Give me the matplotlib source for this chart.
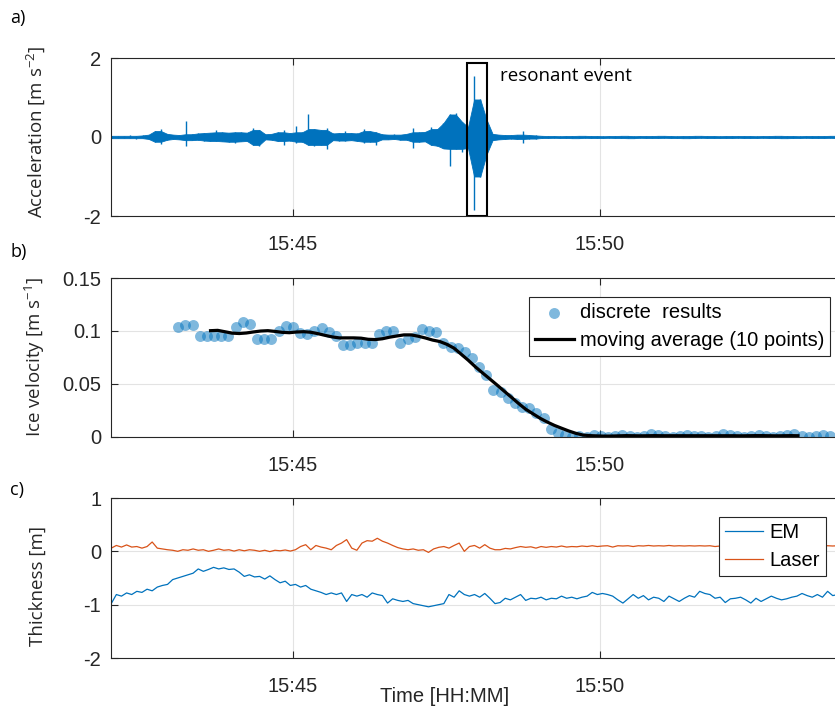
import numpy as np
import matplotlib
matplotlib.use('Agg')
import matplotlib.pyplot as plt
from matplotlib.patches import Rectangle

plt.rcParams['font.family'] = ['Liberation Sans', 'DejaVu Sans']
plt.rcParams['mathtext.fontset'] = 'custom'
plt.rcParams['mathtext.rm'] = 'Open Sans'
plt.rcParams['mathtext.default'] = 'regular'

# time axis in minutes after 15:40
time_ticks = [5, 10]
time_labels = ['15:45', '15:50']
x_range = (2.036, 13.876)

# a) accelerometer trace, max/min per 6 s window starting 15:42:03
acc_t0, acc_dt = 2.05, 0.1
acc_max = [0.03, 0.03, 0.03, 0.04, 0.03, 0.04, 0.06, 0.15, 0.20, 0.08,
           0.06, 0.05, 0.40, 0.07, 0.09, 0.10, 0.11, 0.17, 0.12, 0.11,
           0.13, 0.12, 0.11, 0.24, 0.18, 0.07, 0.08, 0.12, 0.18, 0.10,
           0.29, 0.12, 0.57, 0.20, 0.18, 0.22, 0.09, 0.10, 0.15, 0.10,
           0.09, 0.20, 0.15, 0.12, 0.07, 0.06, 0.07, 0.06, 0.08, 0.22,
           0.12, 0.13, 0.26, 0.20, 0.35, 0.57, 0.60, 0.39, 0.25, 1.55,
           0.95, 0.45, 0.08, 0.06, 0.05, 0.05, 0.06, 0.14, 0.05, 0.04,
           0.03, 0.025, 0.03, 0.02, 0.03, 0.025, 0.03, 0.03, 0.025, 0.03,
           0.02, 0.03, 0.025, 0.03, 0.03, 0.02, 0.025, 0.03, 0.025, 0.03,
           0.03, 0.025, 0.02, 0.03, 0.025, 0.03, 0.03, 0.025, 0.03, 0.02,
           0.03, 0.025, 0.03, 0.025, 0.03, 0.02, 0.03, 0.025, 0.03, 0.03,
           0.025, 0.03, 0.02, 0.03, 0.025, 0.03, 0.025, 0.03, 0.03]
acc_min = [-0.03, -0.03, -0.03, -0.03, -0.04, -0.03, -0.05, -0.12, -0.18, -0.07,
           -0.05, -0.06, -0.22, -0.08, -0.07, -0.09, -0.10, -0.10, -0.11, -0.12,
           -0.14, -0.11, -0.10, -0.20, -0.22, -0.06, -0.07, -0.10, -0.20, -0.09,
           -0.16, -0.12, -0.20, -0.22, -0.20, -0.30, -0.08, -0.09, -0.09, -0.08,
           -0.10, -0.15, -0.12, -0.20, -0.06, -0.06, -0.05, -0.07, -0.07, -0.29,
           -0.12, -0.11, -0.20, -0.22, -0.29, -0.73, -0.30, -0.37, -0.28, -1.85,
           -1.00, -0.45, -0.08, -0.06, -0.05, -0.04, -0.05, -0.16, -0.04, -0.05,
           -0.025, -0.03, -0.02, -0.03, -0.025, -0.03, -0.03, -0.02, -0.03, -0.025,
           -0.03, -0.02, -0.03, -0.025, -0.03, -0.03, -0.02, -0.025, -0.03, -0.025,
           -0.02, -0.03, -0.025, -0.03, -0.03, -0.025, -0.02, -0.03, -0.025, -0.03,
           -0.025, -0.03, -0.02, -0.03, -0.025, -0.03, -0.02, -0.03, -0.025, -0.03,
           -0.03, -0.025, -0.03, -0.02, -0.03, -0.025, -0.03, -0.02, -0.03]
event_window = (7.834, 8.160)
event_top = 1.87

# b) ice velocity, one estimate every 7 s starting 15:43:08
vel_t0, vel_dt = 3.132, 7 / 60
velocity = [0.1035, 0.1054, 0.1054, 0.0956, 0.0953, 0.095, 0.095, 0.095, 0.104, 0.1088,
            0.1066, 0.0925, 0.092, 0.092, 0.1003, 0.105, 0.1035, 0.0984, 0.0969, 0.1003,
            0.103, 0.099, 0.095, 0.0868, 0.0868, 0.089, 0.089, 0.089, 0.0972, 0.1003,
            0.1003, 0.0884, 0.0922, 0.0947, 0.1016, 0.1003, 0.0993, 0.089, 0.0846, 0.0837,
            0.0805, 0.0748, 0.0657, 0.0582, 0.0443, 0.0428, 0.0365, 0.0318, 0.0286, 0.027,
            0.0224, 0.0176, 0.0072, 0.0035, 0.002, 0.0003, 0.001, 0.0, 0.002, 0.001,
            0.0, 0.001, 0.002, 0.001, 0.0, 0.001, 0.003, 0.002, 0.001, 0.0,
            0.001, 0.002, 0.001, 0.001, 0.0, 0.001, 0.003, 0.002, 0.001, 0.0,
            0.001, 0.002, 0.001, 0.0, 0.001, 0.002, 0.003, 0.001, 0.0, 0.001,
            0.002, 0.001]
ma_window = 10

# c) ice thickness, one sample every 5 s starting 15:42:02
thk_t0, thk_dt = 2.04, 5 / 60
em_thickness = [-0.98, -0.81, -0.84, -0.78, -0.81, -0.75, -0.77, -0.71, -0.74, -0.67,
                -0.64, -0.62, -0.53, -0.50, -0.47, -0.44, -0.41, -0.33, -0.375, -0.34,
                -0.30, -0.33, -0.31, -0.34, -0.33, -0.39, -0.47, -0.44, -0.48, -0.47,
                -0.52, -0.46, -0.53, -0.59, -0.56, -0.64, -0.62, -0.67, -0.64, -0.71,
                -0.74, -0.77, -0.81, -0.78, -0.81, -0.78, -0.94, -0.81, -0.84, -0.81,
                -0.86, -0.78, -0.81, -0.83, -0.97, -0.89, -0.92, -0.94, -0.92, -0.98,
                -1.00, -1.02, -1.04, -1.02, -1.00, -0.98, -0.81, -0.86, -0.74, -0.81,
                -0.84, -0.81, -0.86, -0.79, -0.88, -0.98, -0.96, -0.88, -0.91, -0.86,
                -0.81, -0.92, -0.88, -0.89, -0.86, -0.91, -0.88, -0.89, -0.84, -0.88,
                -0.86, -0.89, -0.86, -0.84, -0.77, -0.81, -0.79, -0.81, -0.84, -0.91,
                -0.97, -0.89, -0.81, -0.88, -0.83, -0.91, -0.86, -0.88, -0.94, -0.84,
                -0.89, -0.94, -0.88, -0.83, -0.86, -0.75, -0.79, -0.81, -0.88, -0.86,
                -0.96, -0.89, -0.88, -0.86, -0.91, -0.97, -0.88, -0.94, -0.89, -0.84,
                -0.88, -0.91, -0.89, -0.86, -0.84, -0.79, -0.83, -0.86, -0.81, -0.86,
                -0.75, -0.83, -0.81]
laser_thickness = [0.06, 0.11, 0.08, 0.12, 0.08, 0.09, 0.06, 0.09, 0.175, 0.06,
                   0.045, 0.03, 0.02, 0.0, 0.03, 0.02, 0.045, 0.02, 0.03, 0.0,
                   0.02, 0.045, 0.02, 0.03, 0.005, 0.03, 0.01, 0.03, 0.02, 0.0,
                   0.02, -0.005, 0.02, 0.01, 0.025, 0.005, 0.03, 0.09, 0.125, 0.03,
                   0.11, 0.08, 0.06, 0.03, 0.11, 0.155, 0.22, 0.06, 0.02, 0.155,
                   0.2, 0.19, 0.245, 0.19, 0.155, 0.11, 0.07, 0.045, 0.03, 0.045,
                   0.02, 0.03, -0.02, 0.045, 0.075, 0.09, 0.06, 0.11, 0.155, 0.0,
                   0.09, 0.11, 0.06, 0.125, 0.06, 0.03, 0.03, 0.055, 0.045, 0.07,
                   0.09, 0.075, 0.085, 0.06, 0.09, 0.075, 0.09, 0.08, 0.1, 0.08,
                   0.09, 0.085, 0.1, 0.09, 0.105, 0.09, 0.1, 0.105, 0.08, 0.105,
                   0.1, 0.105, 0.09, 0.105, 0.1, 0.11, 0.1, 0.105, 0.1, 0.11,
                   0.1, 0.105, 0.1, 0.105, 0.1, 0.105, 0.1, 0.105, 0.09, 0.1,
                   0.105, 0.1, 0.11, 0.1, 0.105, 0.1, 0.105, 0.11, 0.1, 0.105,
                   0.1, 0.105, 0.11, 0.1, 0.105, 0.1, 0.1, 0.105, 0.11, 0.1,
                   0.105, 0.1, 0.105]

BLUE = '#0072BD'
ORANGE = '#D95319'
DARK = '#262626'
W, H = 835, 708

fig = plt.figure(figsize=(W / 100, H / 100), dpi=100)


def add_panel(top, bottom, left=111, right=838):
    return fig.add_axes([left / W, 1 - bottom / H, (right - left) / W, (bottom - top) / H])


def style(ax, yticks, ylabels, ylabel, label_y=0.5):
    ax.set_xlim(*x_range)
    ax.set_xticks(time_ticks, time_labels)
    ax.set_yticks(yticks, ylabels)
    ax.set_ylim(yticks[0], yticks[-1])
    ax.grid(True, color='#e3e3e3', lw=0.8)
    ax.set_axisbelow(True)
    ax.tick_params(direction='in', length=5, width=0.8, color=DARK, labelcolor=DARK,
                   labelsize=14.5, top=True, right=False)
    ax.tick_params(axis='x', pad=14)
    ax.tick_params(axis='y', pad=7)
    for s in ax.spines.values():
        s.set_color(DARK)
        s.set_linewidth(0.8)
    ax.set_ylabel(ylabel, fontfamily='Open Sans', fontsize=13.5, color=DARK)
    ax.yaxis.set_label_coords(-0.088, label_y)


def legend(ax, anchor):
    leg = ax.legend(loc='upper right', bbox_to_anchor=anchor, fontsize=14.5,
                    fancybox=False, edgecolor=DARK, framealpha=1, borderpad=0.3,
                    handlelength=1.9, handletextpad=0.3, labelspacing=0.45,
                    borderaxespad=0)
    leg.get_frame().set_linewidth(0.8)
    return leg


# a) acceleration: filled body of the trace plus one stroke per window
ax_a = add_panel(58, 216)
hi = np.array(acc_max)
lo = np.array(acc_min)
t_acc = acc_t0 + acc_dt * np.arange(len(hi))
hi_pad = np.pad(hi, 1, mode='edge')
lo_pad = np.pad(lo, 1, mode='edge')
# isolated spikes stay as strokes, sustained shaking fills in
body_hi = np.minimum(hi, np.maximum(hi_pad[:-2], hi_pad[2:]))
body_lo = np.maximum(lo, np.minimum(lo_pad[:-2], lo_pad[2:]))
ax_a.fill_between(t_acc, body_lo, body_hi, color=BLUE, lw=0.6)
ax_a.vlines(t_acc, lo, hi, color=BLUE, lw=1.0)
ax_a.add_patch(Rectangle((event_window[0], -2), event_window[1] - event_window[0],
                         event_top + 2, fill=False, ec='k', lw=1.5, zorder=5))
ax_a.text(8.371, 1.54, 'resonant event', fontfamily='Open Sans', fontsize=13.5,
          va='center', color='k')
style(ax_a, [-2, 0, 2], ['-2', '0', '2'], 'Acceleration [m s$^{-2}$]', 0.53)

# b) ice velocity with moving average
ax_b = add_panel(278, 437)
vel = np.array(velocity)
t_vel = vel_t0 + vel_dt * np.arange(len(vel))
kernel = np.ones(ma_window) / ma_window
vel_ma = np.convolve(vel, kernel, mode='valid')
t_ma = np.convolve(t_vel, kernel, mode='valid')
ax_b.scatter(t_vel, vel, s=62, color=BLUE, alpha=0.5, lw=0, label='discrete  results')
ax_b.plot(t_ma, vel_ma, color='k', lw=2.3, label='moving average (10 points)')
style(ax_b, [0, 0.05, 0.1, 0.15], ['0', '0.05', '0.1', '0.15'], 'Ice velocity [m s$^{-1}$]')
legend(ax_b, (0.989, 0.881))

# c) ice thickness
ax_c = add_panel(498, 658)
t_thk = thk_t0 + thk_dt * np.arange(len(em_thickness))
ax_c.plot(t_thk, em_thickness, color=BLUE, lw=0.9, label='EM')
ax_c.plot(t_thk, laser_thickness, color=ORANGE, lw=0.9, label='Laser')
style(ax_c, [-2, -1, 0, 1], ['-2', '-1', '0', '1'], 'Thickness [m]', 0.45)
legend(ax_c, (0.9835, 0.881))

fig.text(445 / W, 1 - 696 / H, 'Time [HH:MM]', fontsize=14.5, color=DARK,
         ha='center', va='center')

for label, y in (('a)', 18), ('b)', 252), ('c)', 490)):
    fig.text(10 / W, 1 - y / H, label, fontfamily='Open Sans', fontsize=13, va='center')

fig.savefig('out.png', dpi=100)
